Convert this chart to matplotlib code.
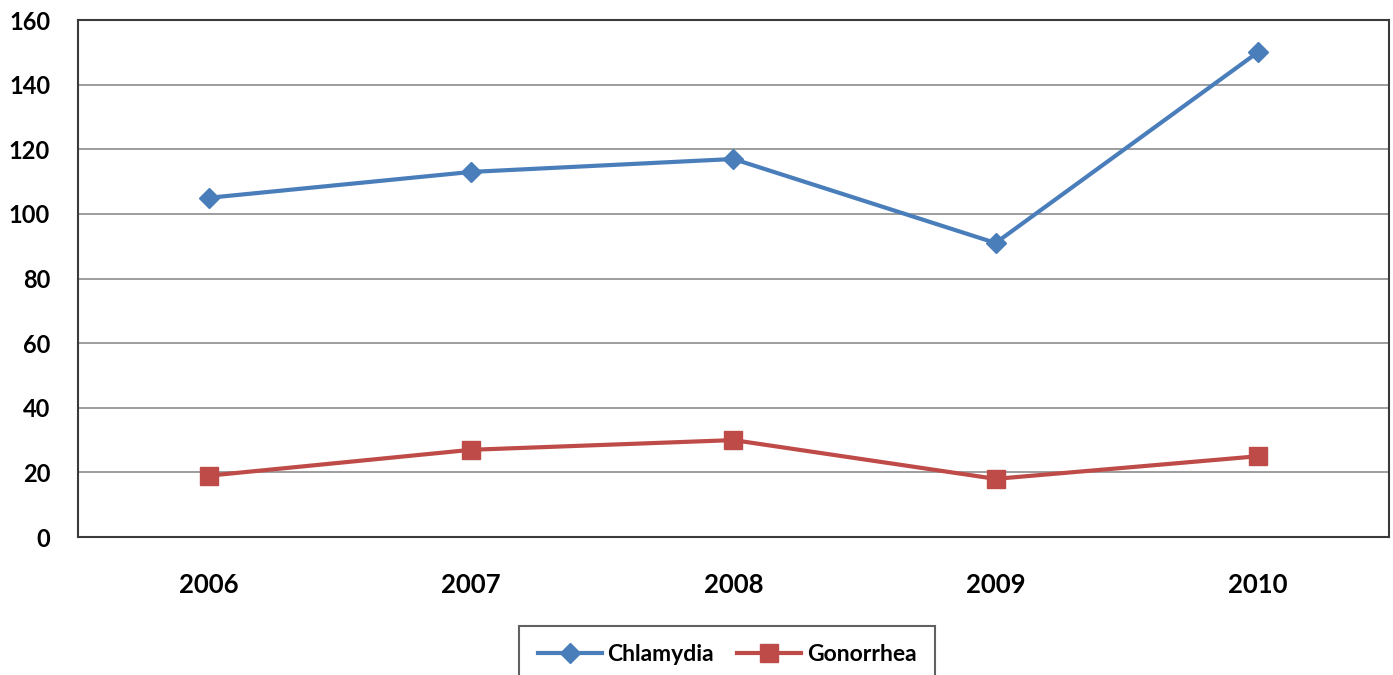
import matplotlib
matplotlib.use("Agg")
import matplotlib.pyplot as plt

# Jaartallen en gemelde gevallen per aandoening
jaren = ["2006", "2007", "2008", "2009", "2010"]
chlamydia = [105, 113, 117, 91, 150]
gonorroe = [19, 27, 30, 18, 25]

plt.rcParams['font.family'] = ['Lato', 'DejaVu Sans']

fig = plt.figure(figsize=(13.93, 6.75), dpi=100)
ax = fig.add_axes([0.056, 0.2044, 0.941, 0.7659])

x = range(len(jaren))
ax.plot(x, chlamydia, color='#4a7ebb', marker='D', markersize=10, linewidth=3,
        label='Chlamydia')
ax.plot(x, gonorroe, color='#be4b48', marker='s', markersize=13, linewidth=3,
        label='Gonorrhea')

ax.set_xlim(-0.5, len(jaren) - 0.5)
ax.set_ylim(0, 160)
ax.set_yticks(range(0, 161, 20))
ax.set_xticks(list(x))
ax.set_xticklabels(jaren)

ax.grid(axis='y', color='#8c8c8c', linewidth=1.2)
ax.set_axisbelow(True)
for spine in ax.spines.values():
    spine.set_color('#3a3a3a')
    spine.set_linewidth(1.5)

ax.tick_params(axis='both', length=0)
ax.tick_params(axis='x', pad=26, labelsize=18.5)
ax.tick_params(axis='y', pad=20, labelsize=17)
for lbl in ax.get_xticklabels() + ax.get_yticklabels():
    lbl.set_fontweight('bold')

leg = fig.legend(loc='upper center', bbox_to_anchor=(727 / 1393, 1 - 626 / 675),
                 ncol=2, frameon=True, fancybox=False,
                 handlelength=2.8, columnspacing=1.0, handletextpad=0.25,
                 borderpad=0.8, borderaxespad=0.0,
                 prop={'weight': 'bold', 'size': 16.5})
leg.get_frame().set_edgecolor('#3a3a3a')
leg.get_frame().set_linewidth(1.5)

fig.savefig('out.png', dpi=100)
